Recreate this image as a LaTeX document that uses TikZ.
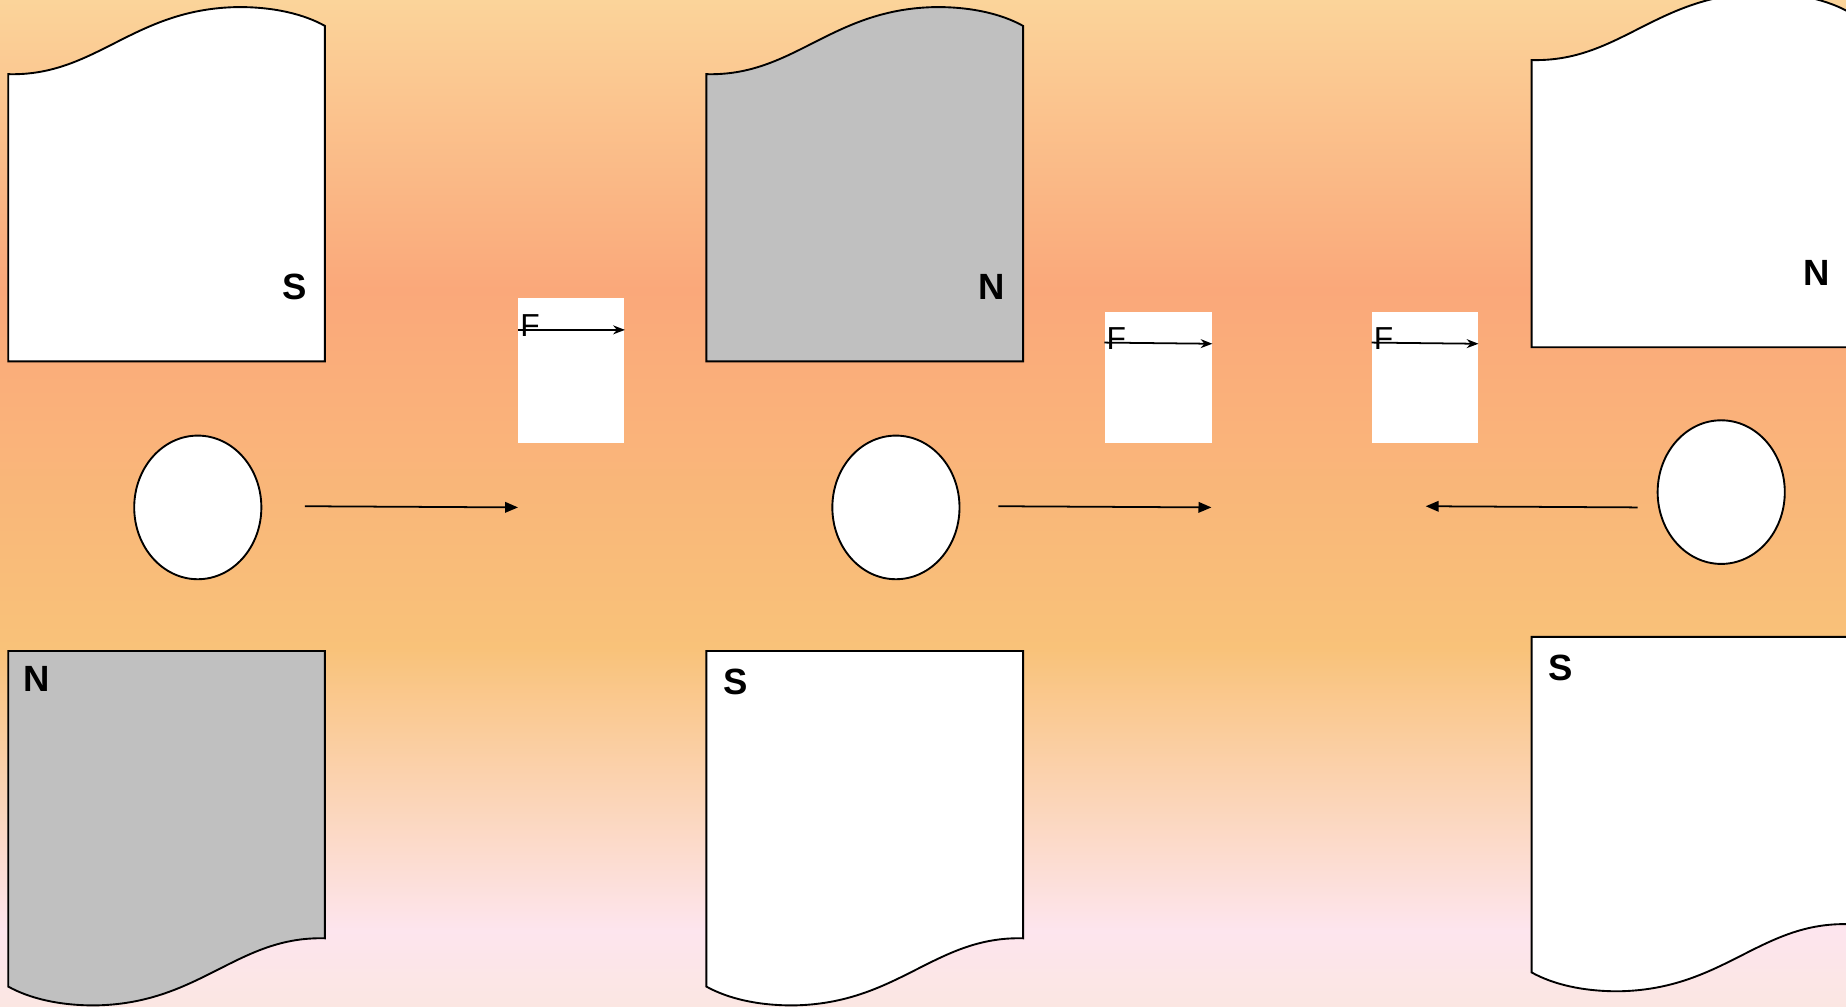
\documentclass[tikz,border=0pt]{standalone}
\usepackage{fontspec}
\setmainfont{Liberation Sans}
\usetikzlibrary{positioning,calc}
\usetikzlibrary{arrows.meta}
\usetikzlibrary{shapes.geometric}

\definecolor{bgtop}{HTML}{FBD49A}
\definecolor{bgsalmon}{HTML}{FAA87A}
\definecolor{bgorange}{HTML}{F9C279}
\definecolor{bgpink}{HTML}{FDE5EE}
\definecolor{bgbottom}{HTML}{FBE6E2}
\definecolor{magnetgray}{HTML}{C0C0C0}

\tikzset{
  magnet/.pic={
    \path[pic actions] (0,0) -- (269,0) -- (269,244)
      .. controls (194,242) and (163,300) .. (73,301)
      .. controls (43,301) and (18,295) .. (0,285) -- cycle;
  }
}

\begin{document}
\begin{tikzpicture}[x=0.5pt, y=-0.5pt, >={Stealth[length=5pt,width=3.8pt]},
  pole/.style={font=\fontsize{15.5}{18}\selectfont\bfseries, inner sep=0pt},
  flabel/.style={font=\fontsize{13.5}{16}\selectfont, inner sep=0pt, anchor=north west},
  conductor/.style={ellipse, draw, line width=.8pt, fill=white, minimum width=54pt, minimum height=61pt},
  fbox/.style={fill=white, inner sep=0pt, anchor=north west},
  push/.style={-{Triangle[length=5.5pt,width=4.5pt]}, line width=.75pt},
  pull/.style={->, line width=.75pt}]

% background
\clip (0,0) rectangle (1568,855);
\shade[top color=bgtop, bottom color=bgsalmon] (0,0) rectangle (1568,246);
\shade[top color=bgsalmon, bottom color=bgorange] (0,245) rectangle (1568,551);
\shade[top color=bgorange, bottom color=bgpink] (0,550) rectangle (1568,791);
\shade[top color=bgpink, bottom color=bgbottom] (0,790) rectangle (1568,855);

% magnets
\pic[draw, fill=white, line width=.8pt, rotate=180] at (276,307) {magnet};
\pic[draw, fill=magnetgray, line width=.8pt] at (7,553) {magnet};
\pic[draw, fill=magnetgray, line width=.8pt, rotate=180] at (869,307) {magnet};
\pic[draw, fill=white, line width=.8pt] at (600,553) {magnet};
\pic[draw, fill=white, line width=.8pt, rotate=180] at (1570,295) {magnet};
\pic[draw, fill=white, line width=.8pt] at (1301,541) {magnet};

\node[pole] (s1) at (250,244) {S};
\node[pole] (n1) at (31,577) {N};
\node[pole] (n2) at (842,244) {N};
\node[pole] (s2) at (625,579) {S};
\node[pole] (n3) at (1543,232) {N};
\node[pole] (s3) at (1326,567) {S};

% conductors
\node[conductor] (c1) at (168,431) {};
\node[conductor] (c2) at (761,431) {};
\node[conductor] (c3) at (1462,418) {};

% force boxes
\node[fbox, minimum width=45pt, minimum height=61.5pt] (fbox1) at (440,253) {};
\node[fbox, minimum width=45.5pt, minimum height=55.5pt] (fbox2) at (938,265) {};
\node[fbox, minimum width=45pt, minimum height=55.5pt] (fbox3) at (1165,265) {};

\node[flabel] (f1) at ([shift={(.8pt,-6.9pt)}]fbox1.north west) {F};
\node[flabel] (f2) at ([shift={(.8pt,-6.4pt)}]fbox2.north west) {F};
\node[flabel] (f3) at ([shift={(.8pt,-6.4pt)}]fbox3.north west) {F};

\draw[pull] ([yshift=-13.6pt]fbox1.north west) -- ([yshift=-13.6pt]fbox1.north east);
\draw[pull] ([yshift=-13pt]fbox2.north west) -- ([yshift=-13.5pt]fbox2.north east);
\draw[pull] ([yshift=-13pt]fbox3.north west) -- ([yshift=-13.5pt]fbox3.north east);

% motion
\coordinate (a1s) at (259,430);
\coordinate (a1e) at (440,431);
\coordinate (a2s) at (848,430);
\coordinate (a2e) at (1029,431);
\coordinate (a3s) at (1391,431);
\coordinate (a3e) at (1211,430);
\draw[push] (a1s) -- (a1e);
\draw[push] (a2s) -- (a2e);
\draw[push] (a3s) -- (a3e);
\end{tikzpicture}
\end{document}
